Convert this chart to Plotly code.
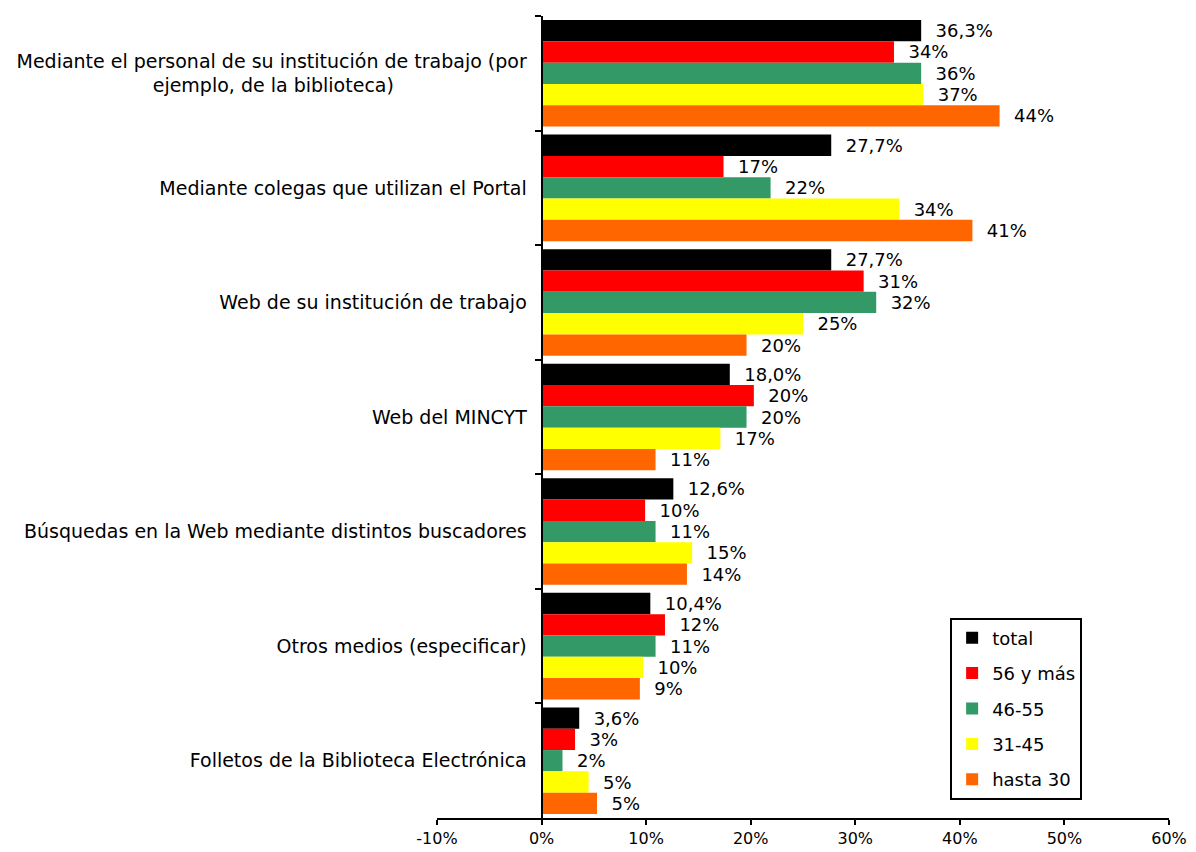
import plotly.graph_objects as go

NB = "\u00a0"
categories = [
    "Mediante el personal de su institución de trabajo (por<br>ejemplo, de la biblioteca)" + NB * 22,
    "Mediante colegas que utilizan el Portal",
    "Web de su institución de trabajo",
    "Web del MINCYT",
    "Búsquedas en la Web mediante distintos buscadores",
    "Otros medios (especificar)",
    "Folletos de la Biblioteca Electrónica",
]

series_names = ["total", "56 y más", "46-55", "31-45", "hasta 30"]
colors = ["#000000", "#FF0000", "#339966", "#FFFF00", "#FF6600"]

total = [36.3, 27.7, 27.7, 18.0, 12.6, 10.4, 3.6]
s56 = [33.7, 17.4, 30.8, 20.3, 9.9, 11.8, 3.2]
s46 = [36.3, 21.9, 32.0, 19.6, 10.9, 10.9, 2.0]
s31 = [36.5, 34.2, 25.0, 17.1, 14.4, 9.7, 4.5]
s30 = [43.8, 41.2, 19.6, 10.9, 13.9, 9.4, 5.3]

total_lbl = ["36,3%", "27,7%", "27,7%", "18,0%", "12,6%", "10,4%", "3,6%"]
s56_lbl = ["34%", "17%", "31%", "20%", "10%", "12%", "3%"]
s46_lbl = ["36%", "22%", "32%", "20%", "11%", "11%", "2%"]
s31_lbl = ["37%", "34%", "25%", "17%", "15%", "10%", "5%"]
s30_lbl = ["44%", "41%", "20%", "11%", "14%", "9%", "5%"]

values = [total, s56, s46, s31, s30]
labels = [total_lbl, s56_lbl, s46_lbl, s31_lbl, s30_lbl]

x_ticks = [-10, 0, 10, 20, 30, 40, 50, 60]
x_ticktext = ["-10%", "0%", "10%", "20%", "30%", "40%", "50%", "60%"]

FONT = "DejaVu Sans, Verdana, sans-serif"

fig = go.Figure()
for name, col, vals, lbl in zip(series_names, colors, values, labels):
    fig.add_trace(go.Bar(
        y=categories, x=vals, name=name, orientation="h",
        marker=dict(color=col, line=dict(width=0)),
        text=lbl, texttemplate="  %{text}", textposition="outside",
        cliponaxis=False,
        textfont=dict(family=FONT, size=18, color="black"),
        legendgroup=name,
    ))

fig.update_layout(
    width=1196, height=852,
    margin=dict(l=429, r=35, t=8, b=42, autoexpand=False),
    paper_bgcolor="white", plot_bgcolor="white",
    barmode="group", bargap=0.07, bargroupgap=0,
    font=dict(family=FONT, size=18, color="black"),
    showlegend=True,
    legend=dict(
        x=0.701, y=0.25, xanchor="left", yanchor="top",
        bgcolor="white", bordercolor="black", borderwidth=2,
        font=dict(family=FONT, size=18, color="black"),
        traceorder="grouped", tracegroupgap=9,
    ),
    xaxis=dict(
        range=[-10, 60], tickvals=x_ticks, ticktext=x_ticktext,
        showgrid=False, zeroline=False, showline=True, linecolor="black", linewidth=2,
        ticks="outside", ticklen=5, tickcolor="black", tickwidth=2,
        ticklabelstandoff=0,
        tickfont=dict(family=FONT, size=16, color="black"),
        automargin=False,
    ),
    yaxis=dict(
        type="category", categoryorder="array", categoryarray=categories,
        range=[6.5, -0.5],
        anchor="free", position=(0 - (-10)) / 70.0,
        showgrid=False, zeroline=False, showline=True, linecolor="black", linewidth=2,
        ticks="outside", ticklen=6, tickcolor="black", tickwidth=2, tickson="boundaries",
        ticklabelstandoff=10,
        tickfont=dict(family=FONT, size=19, color="black"),
        automargin=False,
    ),
)

fig.write_html("out.html")
